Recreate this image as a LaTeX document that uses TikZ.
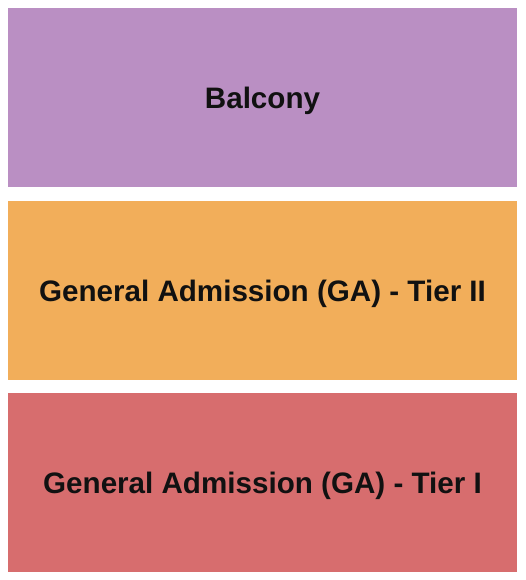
\documentclass[tikz,border=0pt]{standalone}
\usepackage{fontspec}
\setmainfont{Liberation Sans}
\usepackage{tikz}

\definecolor{balconyC}{HTML}{BA8FC3}
\definecolor{tierTwoC}{HTML}{F2AE5A}
\definecolor{tierOneC}{HTML}{D76D6E}
\definecolor{labelC}{HTML}{111111}

\begin{document}
\begin{tikzpicture}[x=1pt,y=-1pt,
    section/.style={draw=none, minimum width=509pt, minimum height=178.5pt,
                    inner sep=0pt, text=labelC, text depth=0pt,
                    font=\bfseries\fontsize{29.6}{36}\selectfont}]
                        % Fix the page size
                        \useasboundingbox (0,0) rectangle (525,580);
                        % Draw the balcony
                        \node[section, fill=balconyC] (balcony) at (262.5,97.5) {Balcony};
                        % Draw general admission tier II
                        \node[section, fill=tierTwoC] (tierTwo) at (262.5,290.3) {General Admission (GA) - Tier II};
                        % Draw general admission tier I
                        \node[section, fill=tierOneC] (tierOne) at (262.5,482.3) {General Admission (GA) - Tier I};
                      \end{tikzpicture}
\end{document}
